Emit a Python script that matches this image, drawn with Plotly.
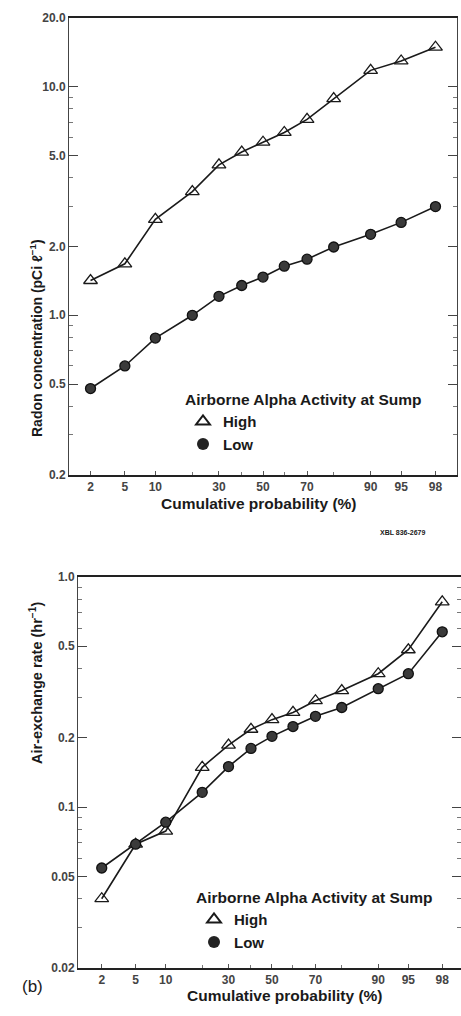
from statistics import NormalDist
import plotly.graph_objects as go

W, H = 461, 1016

# ---------------- data ----------------
prob = [2, 5, 10, 20, 30, 40, 50, 60, 70, 80, 90, 95, 98]

radon_high = [1.42, 1.68, 2.63, 3.48, 4.55, 5.18, 5.72, 6.31, 7.2, 8.87, 11.8, 12.97, 14.9]
radon_low = [0.478, 0.60, 0.795, 1.0, 1.21, 1.35, 1.47, 1.64, 1.76, 1.99, 2.26, 2.55, 2.99]

air_high = [0.040, 0.069, 0.0787, 0.149, 0.186, 0.218, 0.240, 0.258, 0.290, 0.321, 0.380, 0.483, 0.78]
air_low = [0.0544, 0.069, 0.086, 0.116, 0.150, 0.180, 0.203, 0.224, 0.248, 0.271, 0.327, 0.380, 0.578]

x_tick_labels = ["2", "5", "10", "30", "50", "70", "90", "95", "98"]
x_minor_probs = [20, 40, 60, 80]

radon_ticks = [0.2, 0.5, 1.0, 2.0, 5.0, 10.0, 20.0]
radon_tick_labels = ["0.2", "0.5", "1.0", "2.0", "5.0", "10.0", "20.0"]
radon_minor = [0.3, 0.4, 0.6, 0.7, 0.8, 0.9, 3, 4, 6, 7, 8, 9]

air_ticks = [0.02, 0.05, 0.1, 0.2, 0.5, 1.0]
air_tick_labels = ["0.02", "0.05", "0.1", "0.2", "0.5", "1.0"]
air_minor = [0.03, 0.04, 0.06, 0.07, 0.08, 0.09, 0.3, 0.4, 0.6, 0.7, 0.8, 0.9]

legend_title = "Airborne Alpha Activity at Sump"
series_names = ["High", "Low"]

# --------------- helpers ---------------
nd = NormalDist()


def z(p):
    return nd.inv_cdf(p / 100.0)


zx = [z(p) for p in prob]
tick_z = [z(float(t)) for t in x_tick_labels]
minor_z = [z(p) for p in x_minor_probs]

FONT = "Liberation Sans, Arial, Helvetica, sans-serif"
INK = "#1a1a1a"
TICKC = "#444444"


def px_x(px):
    return px / W


def px_y(py):
    return 1 - py / H


fig = go.Figure()

high_marker = dict(symbol="triangle-up-open", size=12, color=INK, line=dict(width=1.3, color=INK))
low_marker = dict(symbol="circle", size=10, color="#3a3a3a", line=dict(width=1.3, color="#111111"))
line_style = dict(color=INK, width=1.6)

# top panel
fig.add_trace(go.Scatter(x=zx, y=radon_high, mode="lines+markers", line=line_style,
                         marker=high_marker, showlegend=False, xaxis="x", yaxis="y"))
fig.add_trace(go.Scatter(x=zx, y=radon_low, mode="lines+markers", line=line_style,
                         marker=low_marker, showlegend=False, xaxis="x", yaxis="y"))
# bottom panel
fig.add_trace(go.Scatter(x=zx, y=air_high, mode="lines+markers", line=line_style,
                         marker=high_marker, showlegend=False, xaxis="x2", yaxis="y2"))
fig.add_trace(go.Scatter(x=zx, y=air_low, mode="lines+markers", line=line_style,
                         marker=low_marker, showlegend=False, xaxis="x2", yaxis="y2"))

# legend-only marker entries
for lg, xa, ya in [("legend", "x", "y"), ("legend2", "x2", "y2")]:
    fig.add_trace(go.Scatter(x=[None], y=[None], mode="markers", name=series_names[0],
                             marker=dict(symbol="triangle-up-open", size=11, color=INK,
                                         line=dict(width=1.2, color=INK)),
                             legend=lg, xaxis=xa, yaxis=ya))
    fig.add_trace(go.Scatter(x=[None], y=[None], mode="markers", name=series_names[1],
                             marker=dict(symbol="circle", size=11, color="#222222"),
                             legend=lg, xaxis=xa, yaxis=ya))

tickfont = dict(family=FONT, size=12, color=TICKC, weight="bold")

common_x = dict(
    type="linear", tickmode="array", tickvals=tick_z, ticktext=x_tick_labels,
    ticks="inside", ticklen=4, tickwidth=1, tickcolor="#555",
    minor=dict(tickmode="array", tickvals=minor_z, ticks="inside", ticklen=3, tickcolor="#777"),
    showline=True, linecolor="#222", linewidth=1.5, mirror=True,
    showgrid=False, zeroline=False, tickfont=tickfont, automargin=False,
)
common_y = dict(
    type="log", tickmode="array",
    ticks="inside", ticklen=9, tickwidth=1, tickcolor="#444",
    showline=True, linecolor="#444", linewidth=1, mirror="ticks",
    showgrid=False, zeroline=False, tickfont=tickfont, automargin=False,
)

legend_common = dict(
    xanchor="left", yanchor="top",
    bgcolor="rgba(0,0,0,0)", borderwidth=0, tracegroupgap=0,
    font=dict(family=FONT, size=15, color=INK, weight="bold"),
    itemsizing="constant",
)

fig.update_layout(
    width=W, height=H,
    margin=dict(l=0, r=0, t=0, b=0),
    paper_bgcolor="white", plot_bgcolor="white",
    font=dict(family=FONT, color=INK),
    xaxis=dict(common_x, domain=[px_x(69), px_x(457)], range=[-2.31, 2.31], anchor="y"),
    yaxis=dict(common_y, domain=[px_y(475), px_y(18)], range=[-0.699, 1.301],
               tickvals=radon_ticks, ticktext=radon_tick_labels,
               minor=dict(tickmode="array", tickvals=radon_minor, ticks="inside",
                          ticklen=4, tickcolor="#777"),
               anchor="x"),
    xaxis2=dict(common_x, domain=[px_x(78), 1.0], range=[-2.34, 2.28], anchor="y2"),
    yaxis2=dict(common_y, domain=[px_y(968), px_y(577)], range=[-1.699, 0.0],
                tickvals=air_ticks, ticktext=air_tick_labels,
                minor=dict(tickmode="array", tickvals=air_minor, ticks="inside",
                           ticklen=4, tickcolor="#777"),
                anchor="x2"),
    legend=dict(
        legend_common,
        title=dict(text=legend_title, font=dict(family=FONT, size=15.5, color=INK, weight="bold")),
        x=px_x(183), y=px_y(385),
    ),
    legend2=dict(
        legend_common,
        title=dict(text=legend_title, font=dict(family=FONT, size=15.5, color=INK, weight="bold")),
        x=px_x(194), y=px_y(883),
    ),
)

annos = [
    dict(text="Radon concentration (pCi ℓ<sup>−1</sup>)", x=px_x(25), y=px_y(237),
         textangle=-90, font=dict(size=14, weight="bold")),
    dict(text="Cumulative probability (%)", x=px_x(259), y=px_y(503),
         font=dict(size=15.5, weight="bold")),
    dict(text="XBL 836-2679", x=px_x(428), y=px_y(532), font=dict(size=7, weight="bold")),
    dict(text="Air-exchange rate (hr<sup>−1</sup>)", x=px_x(25), y=px_y(766),
         textangle=-90, font=dict(size=14.5, weight="bold")),
    dict(text="Cumulative probability (%)", x=px_x(285), y=px_y(1006),
         font=dict(size=15.5, weight="bold")),
    dict(text="(b)", x=px_x(20), y=px_y(998), font=dict(size=17)),
]
for a in annos:
    a.setdefault("xref", "paper")
    a.setdefault("yref", "paper")
    a.setdefault("showarrow", False)
    a["font"] = dict(family=FONT, color=INK, **a["font"])
    fig.add_annotation(**a)

fig.write_html("out.html")
